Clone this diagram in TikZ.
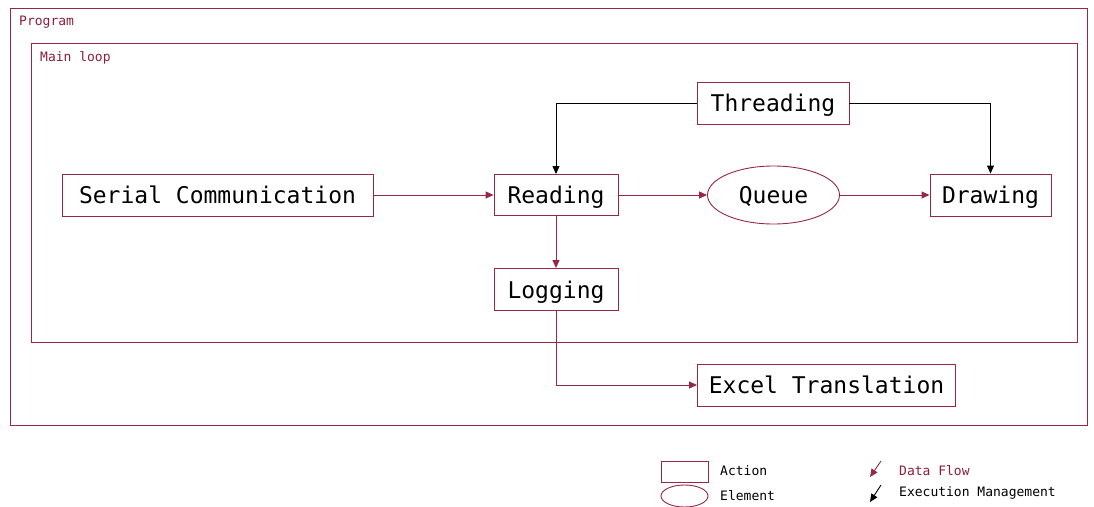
\documentclass[tikz,border=0pt]{standalone}
\usepackage{fontspec}
\setmonofont{DejaVu Sans Mono}
\usetikzlibrary{arrows.meta,shapes.geometric}
\definecolor{maroon}{RGB}{150,40,70}
\definecolor{maroontext}{RGB}{140,30,60}
\tikzset{
  frame/.style={draw=maroon, line width=0.9pt},
  actbox/.style={draw=maroon, line width=0.9pt, rectangle, inner sep=0pt, text height=17pt, text depth=0pt, font=\fontsize{23}{26}\selectfont\ttfamily},
  elem/.style={draw=maroon, line width=0.9pt, ellipse, inner sep=0pt, text height=17pt, text depth=0pt, font=\fontsize{23}{26}\selectfont\ttfamily},
  small/.style={font=\fontsize{13}{15}\selectfont\ttfamily, inner sep=0pt, anchor=west},
  dflow/.style={draw=maroon, line width=0.9pt, -{Triangle[length=8pt,width=7pt]}},
  exec/.style={draw=black, line width=0.9pt, -{Triangle[length=8pt,width=7pt]}}
}
\begin{document}
\begin{tikzpicture}[x=1pt,y=-1pt]
\useasboundingbox (0,0) rectangle (1094,506);
% frames
\draw[frame] (10,8) rectangle (1087,425);
\node[small, text=maroontext] (lprog) at (19,22) {Program};
\draw[frame] (31,43) rectangle (1077,342);
\node[small, text=maroontext] (lmain) at (40,58) {Main loop};
% nodes
\node[actbox, minimum width=311pt, minimum height=42pt] (sc) at (217.5,195) {Serial Communication};
\node[actbox, minimum width=124pt, minimum height=41pt] (rd) at (556,195) {Reading};
\node[elem, minimum width=132pt, minimum height=58pt] (qu) at (773.5,195) {Queue};
\node[actbox, minimum width=121pt, minimum height=42pt] (dr) at (990.5,195) {Drawing};
\node[actbox, minimum width=152pt, minimum height=42pt] (th) at (773,103) {Threading};
\node[actbox, minimum width=124pt, minimum height=42pt] (lg) at (556,289.5) {Logging};
\node[actbox, minimum width=258pt, minimum height=42pt] (ex) at (826.5,385) {Excel Translation};
% data flow
\draw[dflow] (sc) -- (rd);
\draw[dflow] (rd) -- (qu);
\draw[dflow] (qu) -- (dr);
\draw[dflow] (rd) -- (lg);
\draw[dflow] (lg.south) |- (ex.west);
% execution management
\draw[exec] (th.west) -| (rd.north);
\draw[exec] (th.east) -| (dr.north);
% legend
\node[draw=maroon, line width=0.9pt, rectangle, minimum width=47pt, minimum height=21pt, inner sep=0pt] (lga) at (684.5,471.5) {};
\node[small] (lgat) at (720,471) {Action};
\node[draw=maroon, line width=0.9pt, ellipse, minimum width=47pt, minimum height=22pt, inner sep=0pt] (lge) at (684.5,496) {};
\node[small] (lget) at (720,496) {Element};
\coordinate (dfa) at (881,461);
\coordinate (dfb) at (870,477);
\draw[dflow] (dfa) -- (dfb);
\node[small, text=maroontext] (dft) at (899,471) {Data Flow};
\coordinate (exa) at (881,485);
\coordinate (exb) at (870,502);
\draw[exec] (exa) -- (exb);
\node[small] (ext) at (899,493) {Execution Management};
\end{tikzpicture}
\end{document}
